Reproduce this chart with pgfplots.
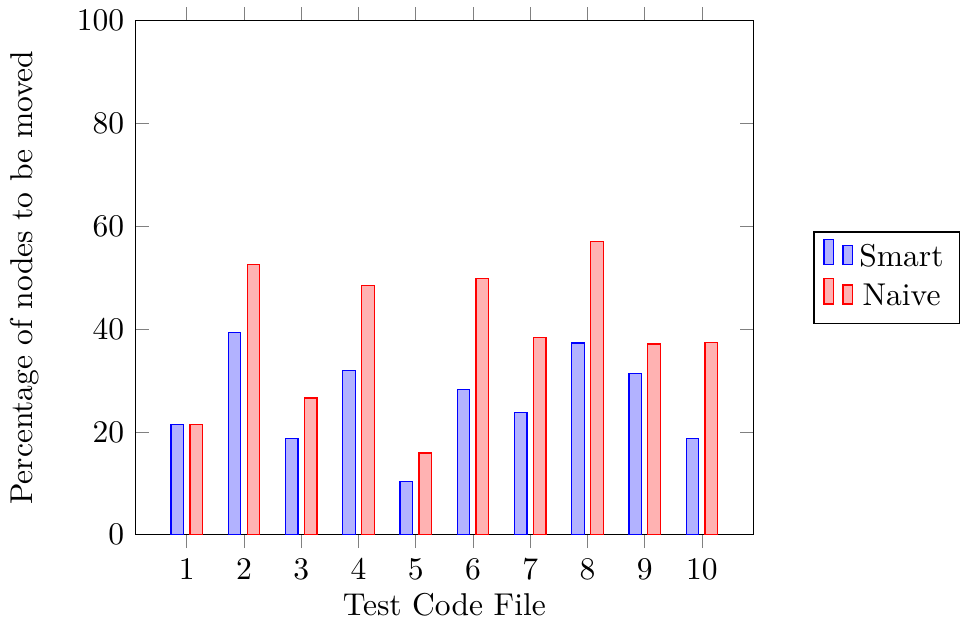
\documentclass[border=0pt]{standalone}
\usepackage{pgfplots}
\pgfplotsset{compat=1.18}
\begin{document}
\begin{tikzpicture}
\begin{axis}[
  scale only axis,
  width=196pt, height=163pt,
  ybar=2pt, bar width=4pt,
  ymin=0, ymax=100,
  xmin=0.1, xmax=10.9,
  xtick={1,2,3,4,5,6,7,8,9,10},
  ytick={0,20,40,60,80,100},
  xlabel={Test Code File},
  ylabel={Percentage of nodes to be moved},
  every axis x label/.style={at={(axis description cs:0.5,0)}, anchor=north, yshift=-15pt},
  every axis y label/.style={at={(axis description cs:0,0.5)}, xshift=-35pt, rotate=90, anchor=center},
  legend style={at={(axis description cs:1,0.5)}, anchor=west, xshift=19pt},
]
\addplot[draw=blue, fill=blue!30] coordinates {(1,21.4) (2,39.4) (3,18.7) (4,32.0) (5,10.4) (6,28.3) (7,23.8) (8,37.3) (9,31.3) (10,18.7)};
\addplot[draw=red, fill=red!30] coordinates {(1,21.4) (2,52.6) (3,26.6) (4,48.5) (5,15.9) (6,49.9) (7,38.4) (8,57.0) (9,37.1) (10,37.4)};
\legend{Smart, Naive}
\end{axis}
\end{tikzpicture}
\end{document}
